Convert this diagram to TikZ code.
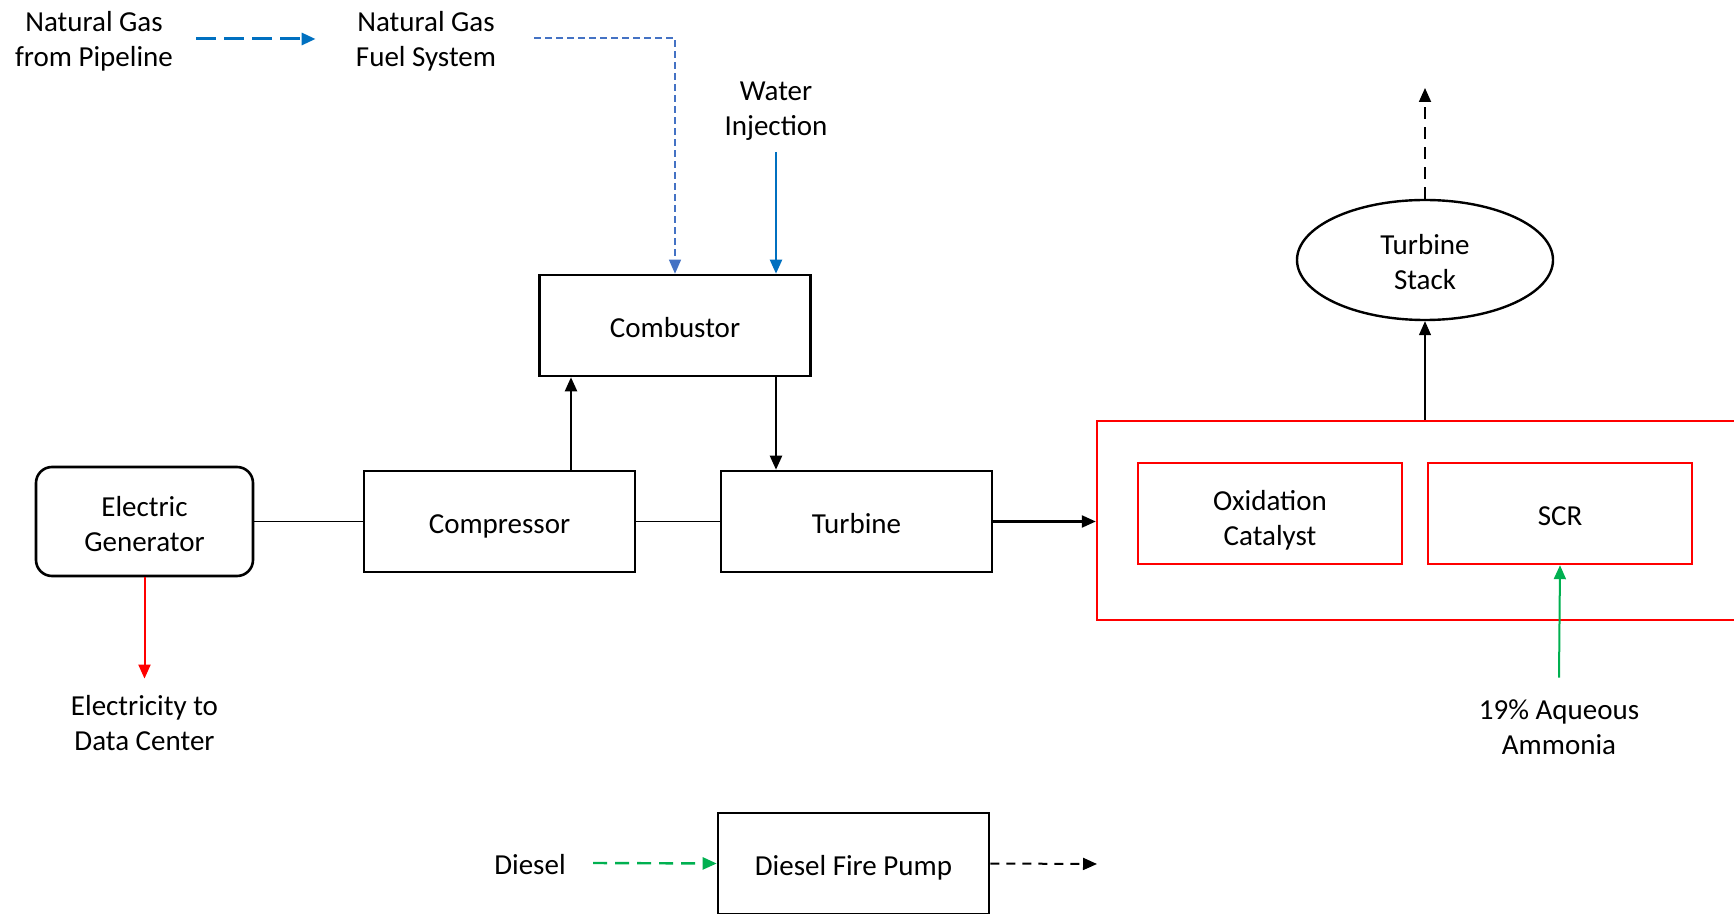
\documentclass[tikz,border=0pt]{standalone}
\usepackage{fontspec}
\setmainfont{Carlito}
\usepackage{tikz}
\usetikzlibrary{arrows.meta,shapes.geometric,calc}
\definecolor{gasblue}{RGB}{0,112,192}
\definecolor{fuelblue}{RGB}{68,114,196}
\definecolor{ammgreen}{RGB}{0,176,80}
\definecolor{catred}{RGB}{255,0,0}

\begin{document}
\begin{tikzpicture}[x=0.5pt, y=-0.5pt,
  every node/.style={font=\fontsize{14.5}{17.5}\selectfont},
  one/.style={text height=15pt, text depth=3.5pt},
  two/.style={text height=29.5pt, text depth=0pt},
  unit/.style={draw, line width=1.3pt, inner sep=0pt, align=center,
               minimum width=135.5pt, minimum height=50.5pt},
  gen/.style={unit, rounded corners=8pt,
              minimum width=108.5pt, minimum height=54.5pt},
  cat/.style={unit, draw=catred, line width=1.2pt, minimum width=132pt},
  lbl/.style={align=center, inner sep=0pt},
  tip/.style={-{Triangle[length=7pt, width=6pt]}},
  shaft/.style={line width=0.6pt},
  flow/.style={tip, line width=1.1pt},
]
\useasboundingbox (0,0) rectangle (1734,914);

%% Gas supply
\node[lbl, two] (pipe) at (94,37.5) {Natural Gas\\from Pipeline};
\node[lbl, two] (fuel) at (426,37.5) {Natural Gas\\Fuel System};
\node[lbl, two] (water) at (776,106.5) {Water\\Injection};

%% Gas turbine train
\node[unit, one, text height=16pt] (comb) at (675,325.5) {Combustor};
\node[gen, two]  (gen)  at (144.5,521.5) {Electric\\Generator};
\node[unit, one] (comp) at (499.5,521.5) {Compressor};
\node[unit, one] (turb) at (856.5,521.5) {Turbine};

%% Emission controls
\node[draw=catred, line width=1.2pt, minimum width=330pt,
      minimum height=99.5pt] (ats) at (1427,520.5) {};
\node[cat, two, text height=32pt] (oxcat) at (1270,513.5)
  {Oxidation\\Catalyst};
\node[cat, one] (scr) at (1560,513.5) {SCR};
\node[draw, ellipse, two, line width=1.2pt, inner sep=0pt, align=center,
      minimum width=128pt, minimum height=60pt] (stack) at (1425,260)
  {Turbine\\Stack};
\coordinate (exhaust) at (1425,88);

%% Outputs / reagents
\node[lbl, two] (elec) at (144.5,721) {Electricity to\\Data Center};
\node[lbl, two] (amm)  at (1559,724.5) {19\% Aqueous\\Ammonia};

%% Fire pump
\node[lbl, one]  (diesel) at (530,863) {Diesel};
\node[unit, one] (pump)   at (853.5,863.5) {Diesel Fire Pump};
\coordinate (pumpout) at (1097,864);

%% Gas and water in
\draw[tip, gasblue, line width=1.5pt, dash pattern=on 10pt off 4pt]
  ([shift={(11.5pt,-0.75pt)}]pipe.east) -- ([shift={(-20pt,-0.75pt)}]fuel.west);
\draw[tip, fuelblue, line width=0.6pt, dash pattern=on 3.5pt off 2pt]
  ([shift={(19pt,-0.25pt)}]fuel.east) -| (comb.north);
\draw[flow, gasblue] ([yshift=-7.75pt]water.south) -- (water.south |- comb.north);

%% Shaft and air/gas path
\draw[shaft] (gen.east) -- (comp.west);
\draw[shaft] (comp.east) -- (turb.west);
\draw[flow] ([xshift=35.75pt]comp.north) coordinate (cin)
  -- (cin |- comb.south);
\draw[flow] ([xshift=50.5pt]comb.south) coordinate (cout)
  -- (cout |- turb.north);
\draw[flow] (turb.east) -- (turb.east -| ats.west);

%% Exhaust
\draw[tip, shaft] (ats.north -| stack.south) -- (stack.south);
\draw[tip, line width=0.9pt, dash pattern=on 6pt off 4pt]
  (stack.north) -- (exhaust);

%% Power and ammonia
\draw[flow, catred, line width=1pt] (gen.south) -- ([yshift=6.25pt]elec.north);
\draw[flow, ammgreen, line width=1pt] ([yshift=8.5pt]amm.north) -- (scr.south);

%% Diesel
\draw[tip, ammgreen, line width=1.2pt, dash pattern=on 7pt off 4pt]
  ([xshift=13.5pt]diesel.east) -- (pump.west);
\draw[tip, line width=1pt, dash pattern=on 4.5pt off 3.5pt]
  (pump.east) -- (pumpout);

\end{tikzpicture}
\end{document}
